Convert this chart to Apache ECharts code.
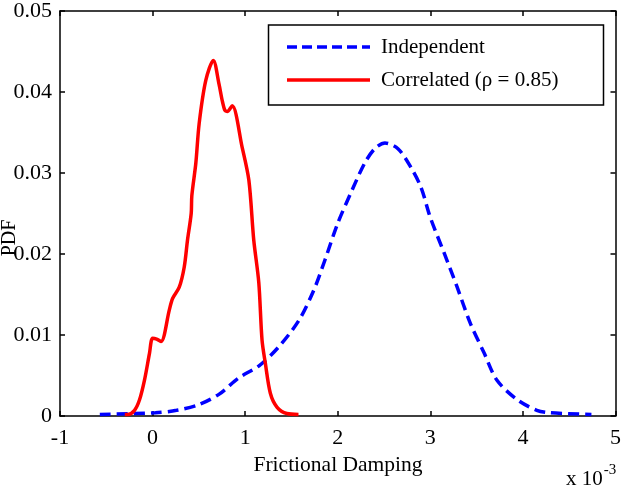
<!DOCTYPE html>
<html><head><meta charset="utf-8">
<script src="https://cdn.jsdelivr.net/npm/echarts@6/dist/echarts.min.js"></script>
<style>html,body{margin:0;padding:0;background:#fff}#c{width:624px;height:489px}</style>
</head><body><div id="c"></div>
<script>
// x values in units of 1e-3
const seriesNames = ['Independent', 'Correlated (\u03c1 = 0.85)'];
const indepX = [-0.57, 0.03, 0.26, 0.50, 0.72, 0.93, 1.15, 1.36, 1.58, 1.74, 1.86, 2.00, 2.14, 2.29, 2.40, 2.51, 2.65, 2.79, 2.90, 3.00, 3.15, 3.29, 3.43, 3.58, 3.72, 3.94, 4.15, 4.29, 4.74];
const indepY = [0.0002, 0.0004, 0.0007, 0.0014, 0.0027, 0.0047, 0.0062, 0.0085, 0.0118, 0.0155, 0.0192, 0.0238, 0.0275, 0.0312, 0.0330, 0.0337, 0.0330, 0.0307, 0.0282, 0.0245, 0.0201, 0.0159, 0.0115, 0.0078, 0.0044, 0.0020, 0.0007, 0.0004, 0.0002];
const corrX = [-0.30, -0.267, -0.195, -0.141, -0.088, -0.034, 0.00, 0.044, 0.092, 0.181, 0.216, 0.288, 0.342, 0.377, 0.417, 0.424, 0.467, 0.503, 0.574, 0.656, 0.717, 0.753, 0.782, 0.806, 0.86, 0.967, 1.04, 1.093, 1.147, 1.182, 1.218, 1.272, 1.343, 1.45, 1.576];
const corrY = [0.0002, 0.0002, 0.0007, 0.0020, 0.0044, 0.0077, 0.0096, 0.0095, 0.0092, 0.0131, 0.0145, 0.0159, 0.0184, 0.0217, 0.0250, 0.0272, 0.0312, 0.0361, 0.0414, 0.0439, 0.0410, 0.0389, 0.0377, 0.0376, 0.0383, 0.0332, 0.0291, 0.0217, 0.0165, 0.0094, 0.0065, 0.0028, 0.0011, 0.0003, 0.0002];
const xTicks = [-1, 0, 1, 2, 3, 4, 5];
const yTicks = [0, 0.01, 0.02, 0.03, 0.04, 0.05];
const xName = 'Frictional Damping';
const yName = 'PDF';

const FONT = '"Liberation Serif", "Times New Roman", serif';
const BLUE = '#0000ff', RED = '#ff0000';
const DASH = [11, 6];
const zip = (a, b) => a.map((v, i) => [v, b[i]]);
const chart = echarts.init(document.getElementById('c'));
const axisCommon = {
  axisLine: { show: true, onZero: false, lineStyle: { color: '#000', width: 1.5 } },
  axisTick: { show: true, inside: true, length: 5, lineStyle: { color: '#000', width: 1.5 } },
  splitLine: { show: false }
};
chart.setOption({
  animation: false,
  backgroundColor: '#fff',
  grid: { left: 60, right: 5, top: 10, bottom: 73, containLabel: false },
  xAxis: [
    Object.assign({ type: 'value', position: 'bottom', min: xTicks[0], max: xTicks[xTicks.length - 1], interval: 1,
      axisLabel: { color: '#000', fontFamily: FONT, fontSize: 22, margin: 11 } }, axisCommon),
    Object.assign({ type: 'value', position: 'top', min: xTicks[0], max: xTicks[xTicks.length - 1], interval: 1,
      axisLabel: { show: false } }, axisCommon)
  ],
  yAxis: [
    Object.assign({ type: 'value', position: 'left', min: yTicks[0], max: yTicks[yTicks.length - 1], interval: 0.01,
      axisLabel: { color: '#000', fontFamily: FONT, fontSize: 22, margin: 8 } }, axisCommon),
    Object.assign({ type: 'value', position: 'right', min: yTicks[0], max: yTicks[yTicks.length - 1], interval: 0.01,
      axisLabel: { show: false } }, axisCommon)
  ],
  series: [
    { name: seriesNames[0], type: 'line', data: zip(indepX, indepY), smooth: 0.3, symbol: 'none', showSymbol: false,
      lineStyle: { color: BLUE, width: 3.5, type: DASH }, itemStyle: { color: BLUE } },
    { name: seriesNames[1], type: 'line', data: zip(corrX, corrY), smooth: 0.3, symbol: 'none', showSymbol: false,
      lineStyle: { color: RED, width: 3.5 }, itemStyle: { color: RED } }
  ],
  graphic: [
    { type: 'rect', z: 50, shape: { x: 268.5, y: 25, width: 335, height: 80 }, style: { fill: '#fff', stroke: '#000', lineWidth: 1.5 } },
    { type: 'line', z: 51, shape: { x1: 287, y1: 47, x2: 370, y2: 47 }, style: { stroke: BLUE, lineWidth: 3.5, lineDash: [10, 5] } },
    { type: 'line', z: 51, shape: { x1: 287, y1: 80, x2: 370, y2: 80 }, style: { stroke: RED, lineWidth: 3.5 } },
    { type: 'text', z: 51, x: 381, y: 47, style: { text: seriesNames[0], textVerticalAlign: 'middle', font: '21px ' + FONT, fill: '#000' } },
    { type: 'text', z: 51, x: 381, y: 80, style: { text: seriesNames[1], textVerticalAlign: 'middle', font: '21px ' + FONT, fill: '#000' } },
    { type: 'text', x: 338, y: 465, style: { text: xName, textAlign: 'center', textVerticalAlign: 'middle', font: '21.5px ' + FONT, fill: '#000' } },
    { type: 'text', x: 10, y: 238, rotation: Math.PI / 2, style: { text: yName, textAlign: 'center', textVerticalAlign: 'middle', font: '20px ' + FONT, fill: '#000' } },
    { type: 'text', x: 566, y: 479, style: { text: '{a|x 10}{b|-3}', textVerticalAlign: 'middle', rich: {
      a: { fontFamily: FONT, fontSize: 21, color: '#000' },
      b: { fontFamily: FONT, fontSize: 15, color: '#000', padding: [0, 0, 18, 1] } } } }
  ]
});
</script></body></html>
